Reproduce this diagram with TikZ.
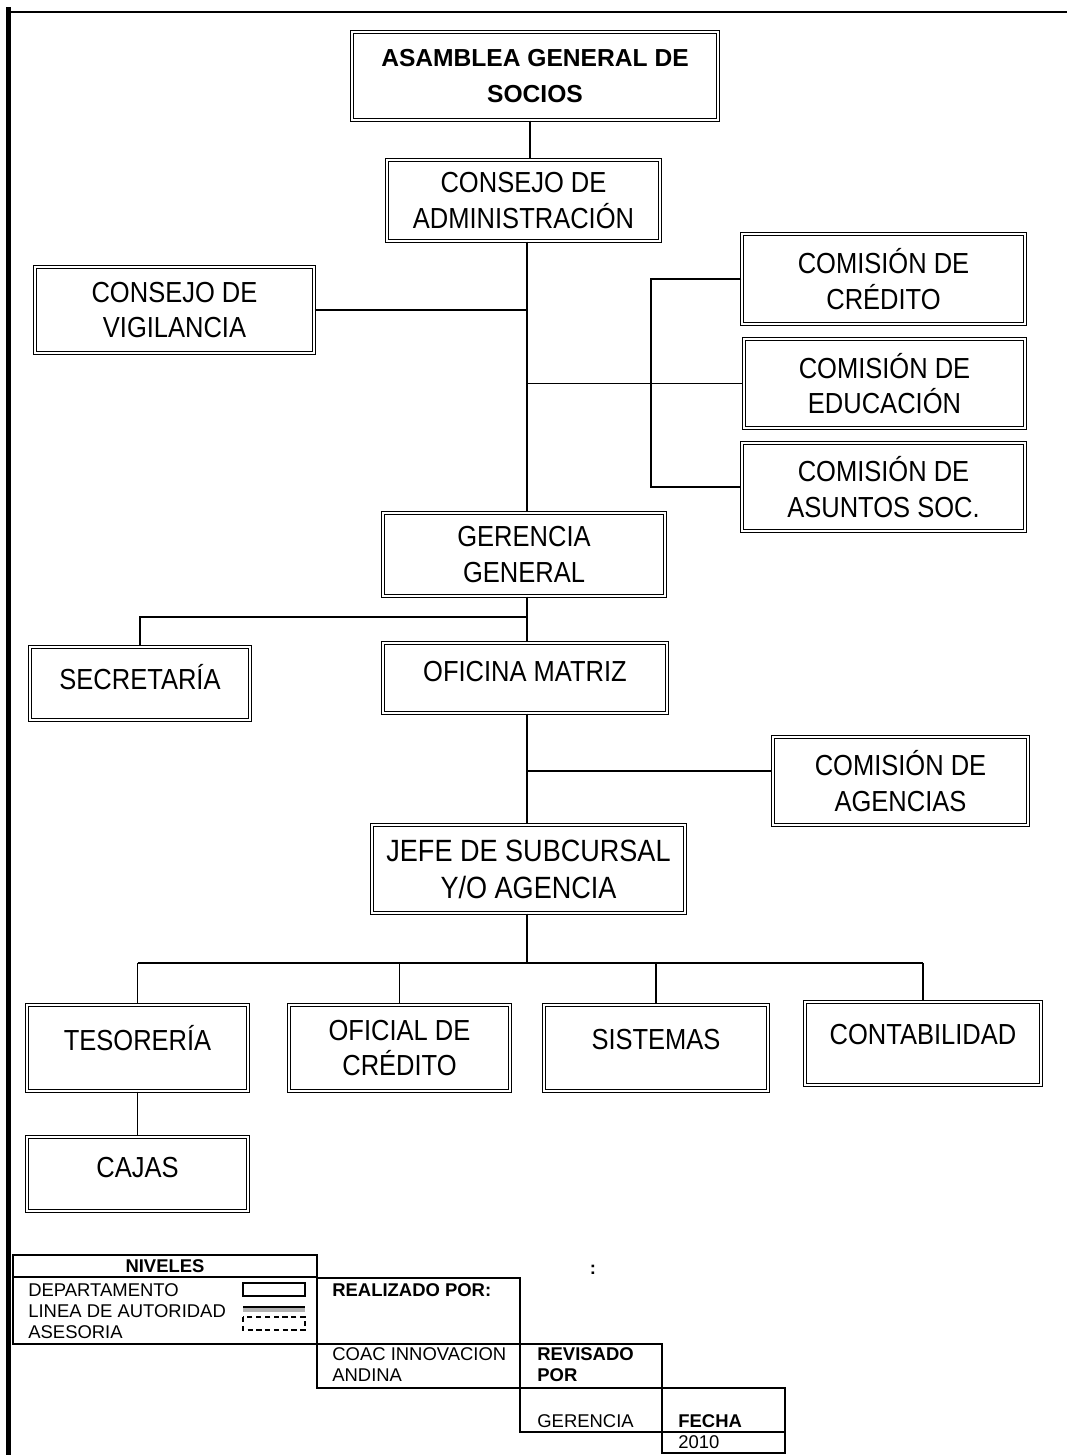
\documentclass[tikz,border=0pt]{standalone}
\usepackage{fontspec}
\setmainfont{Liberation Sans}
\newfontfamily\narrowfont[FakeStretch=0.88]{Liberation Sans}

\begin{document}
\begin{tikzpicture}[x=0.02cm,y=-0.02cm,
  dept/.style 2 args={draw,double,line width=0.7pt,double distance=1pt,inner sep=0pt,
    minimum width=#1cm,minimum height=#2cm,
    align=center,font=\narrowfont\fontsize{16.5}{20}\selectfont},
  lift/.style={text depth=#1},
  cell/.style={line width=1pt},
  legend/.style={inner sep=0pt,anchor=west,align=left,
    font=\fontsize{10.5}{12}\selectfont}]
  \useasboundingbox (0,0) rectangle (1067,1455);

  \draw[line width=2.8pt] (8.5,7) -- (8.5,1455);
  \draw[line width=1.2pt] (7,12) -- (1067,12);

  \node[dept={7.32}{1.76},font=\bfseries\fontsize{14}{21}\selectfont] (AG) at (535,76)
    {ASAMBLEA GENERAL DE\\SOCIOS};
  \node[dept={5.46}{1.62}] (CA) at (523.5,200.5) {CONSEJO DE\\ADMINISTRACIÓN};
  \node[dept={5.58}{1.72}] (CV) at (174.5,310) {CONSEJO DE\\VIGILANCIA};
  \node[dept={5.66}{1.8}] (CC) at (883.5,279) {COMISIÓN DE\\CRÉDITO};
  \node[dept={5.62}{1.78}] (CE) at (884.5,383.5) {COMISIÓN DE\\EDUCACIÓN};
  \node[dept={5.66}{1.76}] (CS) at (883.5,487) {COMISIÓN DE\\ASUNTOS SOC.};
  \node[dept={5.64}{1.66}] (GG) at (524,554.5) {GERENCIA\\GENERAL};
  \node[dept={4.4}{1.46},lift=7pt] (SE) at (140,683.5) {SECRETARÍA};
  \node[dept={5.68}{1.4},lift=8pt] (OM) at (525,678) {OFICINA MATRIZ};
  \node[dept={5.1}{1.76}] (CG) at (900.5,781) {COMISIÓN DE\\AGENCIAS};
  \node[dept={6.26}{1.76},font=\narrowfont\fontsize{17.5}{21}\selectfont] (JS) at (528.5,869)
    {JEFE DE SUBCURSAL\\Y/O AGENCIA};
  \node[dept={4.42}{1.72},lift=12pt] (TE) at (137.5,1048) {TESORERÍA};
  \node[dept={4.42}{1.72}] (OC) at (399.5,1048) {OFICIAL DE\\CRÉDITO};
  \node[dept={4.48}{1.72},lift=10pt] (SI) at (656,1048) {SISTEMAS};
  \node[dept={4.72}{1.66},lift=10pt] (CO) at (923,1043.5) {CONTABILIDAD};
  \node[dept={4.42}{1.48},lift=7pt] (CJ) at (137.5,1174) {CAJAS};

  \coordinate (t0) at (530,0);
  \coordinate (t) at (527,0);
  \coordinate (t2) at (651,0);
  \coordinate (g) at (527,617);
  \coordinate (a) at (527,771);
  \coordinate (j) at (527,963);

  \draw[line width=1pt] (AG.south -| t0) -- (CA.north -| t0);
  \draw[line width=1pt] (CA.south -| t) -- (GG.north -| t);
  \draw[line width=1pt] (CV.east) -- (CV.east -| t);
  \draw[line width=1pt] (t |- CE.west) -- (CE.west);
  \draw[line width=1pt] (CC.west) -- (CC.west -| t2) -- (CS.west -| t2) -- (CS.west);
  \draw[line width=1pt] (GG.south -| t) -- (OM.north -| t);
  \draw[line width=1pt] (g) -| (SE.north);
  \draw[line width=1pt] (OM.south -| t) -- (JS.north -| t);
  \draw[line width=1pt] (a) -- (a -| CG.west);
  \draw[line width=1pt] (JS.south -| t) -- (j);
  \draw[line width=1pt] (TE.north |- j) -- (CO.north |- j);
  \foreach \n in {TE,OC,SI,CO}
    \draw[line width=1pt] (\n.north |- j) -- (\n.north);
  \draw[line width=1pt] (TE.south) -- (CJ.north);

  % cuadro de niveles y firmas
  \draw[cell] (13,1255) rectangle (317,1344);
  \draw[cell] (13,1277) -- (317,1277);
  \draw[cell] (317,1278) rectangle (520,1344);
  \draw[cell] (317,1344) rectangle (520,1388);
  \draw[cell] (520,1344) rectangle (662,1388);
  \draw[cell] (520,1388) rectangle (662,1432);
  \draw[cell] (662,1388) rectangle (785,1432);
  \draw[cell] (662,1432) rectangle (785,1453);

  \node[legend,anchor=center,font=\bfseries\fontsize{10.5}{12}\selectfont] (nv) at (165,1266) {NIVELES};
  \node[legend] (dp) at (28,1290) {DEPARTAMENTO};
  \node[legend] (la) at (28,1311) {LINEA DE AUTORIDAD};
  \node[legend] (as) at (28,1332) {ASESORIA};
  \draw[line width=1pt] (243,1283) rectangle (305,1296);
  \draw[gray!60,line width=2pt] (243,1310) -- (305,1310);
  \draw[line width=0.6pt] (243,1307) -- (305,1307);
  \draw[line width=1pt,dashed,dash pattern=on 3pt off 2pt] (243,1317) rectangle (305,1330);

  \node[legend,font=\bfseries\fontsize{10.5}{12}\selectfont] (rp) at (332,1290) {REALIZADO POR:};
  \node[legend,anchor=center,font=\bfseries\fontsize{10.5}{12}\selectfont] (dd) at (593,1270) {:};
  \node[legend,anchor=north west] (ci) at (332,1347) {COAC INNOVACION\\ANDINA};
  \node[legend,anchor=north west,font=\bfseries\fontsize{10.5}{12}\selectfont] (rv) at (537,1347) {REVISADO\\POR};
  \node[legend] (ge) at (537,1421) {GERENCIA};
  \node[legend,font=\bfseries\fontsize{10.5}{12}\selectfont] (fe) at (678,1421) {FECHA};
  \node[legend] (an) at (678,1442) {2010};
\end{tikzpicture}
\end{document}
